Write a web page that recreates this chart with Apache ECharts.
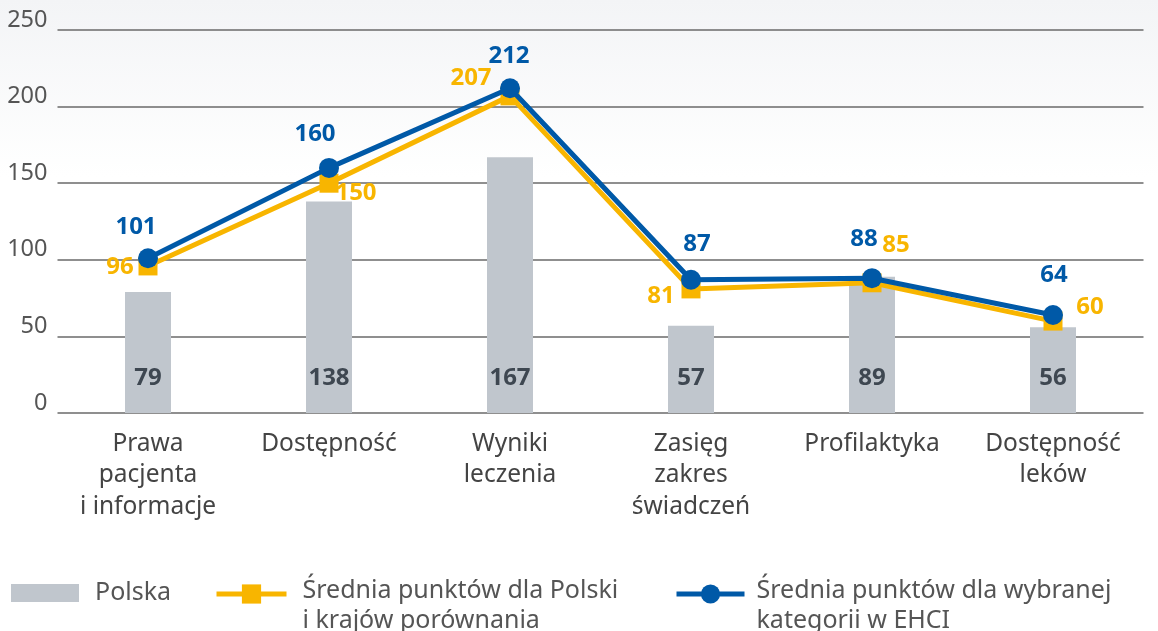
<!DOCTYPE html>
<html lang="pl">
<head>
<meta charset="UTF-8">
<title></title>
<style>
  html, body { margin: 0; padding: 0; background: #fff; }
  #chart { width: 1158px; height: 631px; }
</style>
</head>
<body>
<div id="chart"></div>
<script src="https://cdn.jsdelivr.net/npm/echarts@6/dist/echarts.min.js"></script>
<script>
var categories = ['Prawa\npacjenta\ni informacje', 'Dostępność', 'Wyniki\nleczenia', 'Zasięg\nzakres\nświadczeń', 'Profilaktyka', 'Dostępność\nleków'];
var polska = [79, 138, 167, 57, 89, 56];
var sredniaPolski = [96, 150, 207, 81, 85, 60];
var sredniaEHCI = [101, 160, 212, 87, 88, 64];
var yTicks = [0, 50, 100, 150, 200, 250];

var nameBar = 'Polska';
var nameYellow = 'Średnia punktów dla Polski\ni krajów porównania';
var nameBlue = 'Średnia punktów dla wybranej\nkategorii w EHCI';

// label offsets from each point (style only)
var yellowOffset = [[-28, 1], [27, 10], [-39, -18], [-30, 7], [24, -38], [37, -14]];
var blueOffset = [[-12, -31], [-14, -34], [-1, -32], [6, -36], [-8, -39], [1, -40]];

var FONT = '"Noto Sans", "Open Sans", sans-serif';
var BLUE = '#0059a7';
var YELLOW = '#f8b500';

var chart = echarts.init(document.getElementById('chart'));

var yellowData = sredniaPolski.map(function (v, i) {
  return { value: v, label: { offset: yellowOffset[i] } };
});
var blueData = sredniaEHCI.map(function (v, i) {
  return { value: v, label: { offset: blueOffset[i] } };
});

// two-line legend text: first line level with the icon
function legendLines(name) {
  return '{e| }\n' + name.split('\n').map(function (s) { return '{a|' + s + '}'; }).join('\n');
}
var legendRich = {
  e: { fontSize: 10, lineHeight: 24 },
  a: { fontSize: 25, color: '#555', fontFamily: FONT, lineHeight: 30 }
};

var option = {
  backgroundColor: new echarts.graphic.LinearGradient(0, 0, 0, 1, [
    { offset: 0, color: '#f3f4f6' },
    { offset: 0.28, color: '#ffffff' },
    { offset: 1, color: '#ffffff' }
  ]),
  animation: false,
  textStyle: { fontFamily: FONT },
  grid: { left: 57.5, right: 14.5, top: 30, bottom: 218 },
  legend: [
    {
      data: [nameBar], left: 6, top: 569, itemWidth: 68, itemHeight: 18,
      icon: 'rect',
      textStyle: { fontSize: 25, color: '#555', fontFamily: FONT, lineHeight: 30, padding: [0, 0, 8, 11] }
    },
    {
      data: [nameYellow], left: 209, top: 554, itemWidth: 70, itemHeight: 24,
      lineStyle: { width: 5 },
      formatter: legendLines,
      textStyle: { padding: [0, 0, 0, 11], rich: legendRich }
    },
    {
      data: [nameBlue], left: 669, top: 554, itemWidth: 68, itemHeight: 24,
      lineStyle: { width: 5 },
      formatter: legendLines,
      textStyle: { padding: [0, 0, 0, 7], rich: legendRich }
    }
  ],
  xAxis: {
    type: 'category',
    data: categories,
    axisTick: { show: false },
    axisLine: { show: false },
    axisLabel: { color: '#444', fontSize: 24.5, lineHeight: 31.5, margin: 15, fontFamily: FONT, interval: 0 }
  },
  yAxis: {
    type: 'value',
    min: yTicks[0],
    max: yTicks[yTicks.length - 1],
    interval: 50,
    axisLabel: { color: '#555', fontSize: 23.5, lineHeight: 20, margin: 10, fontFamily: FONT, verticalAlign: 'bottom' },
    axisLine: { show: false },
    axisTick: { show: false },
    splitLine: { lineStyle: { color: '#6a6a6a', width: 1.5 } }
  },
  series: [
    {
      name: nameBar,
      type: 'bar',
      data: polska,
      barWidth: 46,
      itemStyle: { color: '#c0c6cd' },
      label: {
        show: true, position: 'insideBottom', distance: 23,
        color: '#3e4751', fontSize: 24, fontWeight: 'bold', fontFamily: FONT
      },
      z: 1
    },
    {
      name: nameYellow,
      type: 'line',
      data: yellowData,
      symbol: 'rect',
      symbolSize: 19,
      lineStyle: { color: YELLOW, width: 5 },
      itemStyle: { color: YELLOW },
      label: { show: true, position: 'inside', color: YELLOW, fontSize: 24, fontWeight: 'bold', fontFamily: FONT },
      z: 3
    },
    {
      name: nameBlue,
      type: 'line',
      data: blueData,
      symbol: 'circle',
      symbolSize: 20,
      lineStyle: { color: BLUE, width: 5 },
      itemStyle: { color: BLUE },
      label: { show: true, position: 'inside', color: BLUE, fontSize: 24, fontWeight: 'bold', fontFamily: FONT },
      z: 4
    }
  ]
};
chart.setOption(option);
</script>
</body>
</html>
